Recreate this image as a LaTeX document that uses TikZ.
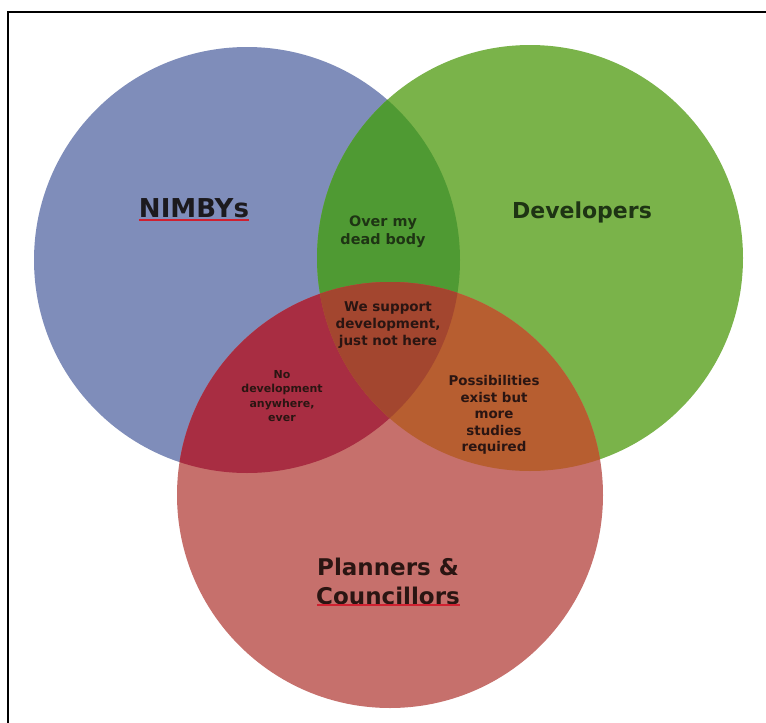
\documentclass[tikz,border=0pt]{standalone}
\usepackage{fontspec}
\setmainfont{DejaVu Sans}
\definecolor{cblue}{HTML}{7F8DBA}
\definecolor{cgreen}{HTML}{7AB34A}
\definecolor{cbg}{HTML}{4F9A33}
\definecolor{cred}{HTML}{C6706C}
\definecolor{crb}{HTML}{A82D42}
\definecolor{crg}{HTML}{B75E30}
\definecolor{cmid}{HTML}{A3462F}
\definecolor{tdark}{HTML}{1C1A1E}
\definecolor{tgreen}{HTML}{1E3414}
\definecolor{tred}{HTML}{2A1512}
\definecolor{squig}{HTML}{D02030}
\begin{document}
\begin{tikzpicture}[x=1pt,y=-1pt,
  lbl/.style={inner sep=0pt,align=center,font=\bfseries},
  underl/.style={squig,line width=1.4pt}]
\useasboundingbox (0,0) rectangle (766,723);
\fill[white] (0,0) rectangle (766,723);
% frame
\draw[line width=1.5pt,black] (8,723) -- (8,12) -- (766,12);
% centres
\coordinate (B) at (247,260);
\coordinate (G) at (530,258);
\coordinate (R) at (390,495);
% circles and overlaps
\fill[cblue] (B) circle[radius=213pt];
\fill[cgreen] (G) circle[radius=213pt];
\begin{scope}
  \clip (B) circle[radius=213pt];
  \fill[cbg] (G) circle[radius=213pt];
\end{scope}
\fill[cred] (R) circle[radius=213pt];
\begin{scope}
  \clip (R) circle[radius=213pt];
  \fill[crb] (B) circle[radius=213pt];
  \fill[crg] (G) circle[radius=213pt];
  \clip (B) circle[radius=213pt];
  \fill[cmid] (G) circle[radius=213pt];
\end{scope}
% labels
\node[lbl,text=tdark,anchor=base,font=\bfseries\fontsize{26}{30}\selectfont] (nimby) at (194,217) {NIMBYs};
\draw[underl] (nimby.base west) ++(0,3) coordinate (nu1) -- (nimby.base east |- nu1);
\node[lbl,text=tgreen,anchor=base,font=\bfseries\fontsize{22}{26}\selectfont] (dev) at (582,218) {Developers};
\node[lbl,text=tred,font=\bfseries\fontsize{23}{29}\selectfont] (plan) at (388,581) {Planners \&\\Councillors};
\coordinate (cu1) at (317,605);
\coordinate (cu2) at (460,605);
\draw[underl] (cu1) -- (cu2);
\node[lbl,text=tgreen,font=\bfseries\fontsize{14.4}{18}\selectfont] (dead) at (383,232) {Over my\\dead body};
\node[lbl,text=tred,font=\bfseries\fontsize{13.5}{17}\selectfont] (supp) at (388,325) {We support\\development,\\just not here};
\node[lbl,text=tred,font=\bfseries\fontsize{11}{14.5}\selectfont] (nodev) at (282,396) {No\\development\\anywhere,\\ever};
\node[lbl,text=tred,font=\bfseries\fontsize{13.4}{16.5}\selectfont] (poss) at (494,415) {Possibilities\\exist but\\more\\studies\\required};
\end{tikzpicture}
\end{document}
